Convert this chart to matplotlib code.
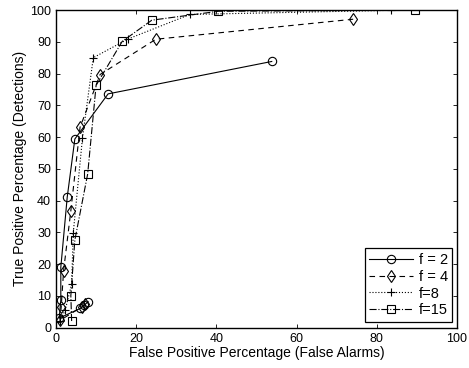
import matplotlib.pyplot as plt

plt.rcParams['font.family'] = ['Liberation Sans', 'DejaVu Sans']

# ROC points (false alarm %, detection %) for each window size f
fp_f2 = [8.0, 7.0, 6.1, 0.8, 1.2, 1.2, 2.8, 4.7, 13.0, 53.8]
tp_f2 = [8.2, 7.0, 6.1, 3.0, 8.6, 19.0, 41.1, 59.4, 73.6, 83.8]

fp_f4 = [7.3, 6.5, 1.0, 1.3, 1.9, 3.7, 6.0, 11.0, 24.9, 74.1]
tp_f4 = [7.6, 6.6, 2.3, 6.6, 18.0, 36.8, 63.1, 79.7, 90.8, 97.1]

fp_f8 = [1.0, 2.3, 3.9, 4.3, 6.6, 9.3, 18.0, 33.4, 83.5]
tp_f8 = [2.0, 5.6, 13.7, 29.8, 59.7, 85.0, 90.9, 98.6, 99.9]

fp_f15 = [3.9, 3.7, 4.7, 7.9, 10.0, 16.5, 23.9, 40.5, 89.5]
tp_f15 = [2.1, 10.1, 27.6, 48.4, 76.3, 90.1, 96.8, 99.6, 100.0]

fig = plt.figure(figsize=(4.69, 3.68), dpi=100)
ax = fig.add_axes([0.1194, 0.1095, 0.855, 0.8633])

kw = dict(color='k', lw=0.8, markersize=6, markerfacecolor='none',
          markeredgecolor='k', markeredgewidth=0.8)
ax.plot(fp_f2, tp_f2, '-o', label='f = 2', **kw)
ax.plot(fp_f4, tp_f4, '--d', label='f = 4', dashes=(5, 4), **kw)
ax.plot(fp_f8, tp_f8, ':+', label='f=8', **kw)
ax.plot(fp_f15, tp_f15, '-.s', label='f=15', **kw)

ax.set_xlim(0, 100)
ax.set_ylim(0, 100)
ax.set_xticks(range(0, 101, 20))
ax.set_yticks(range(0, 101, 10))
ax.tick_params(direction='in', top=True, right=True, length=3,
               labelsize=9, width=0.6)
for s in ax.spines.values():
    s.set_linewidth(1.0)

ax.set_xlabel('False Positive Percentage (False Alarms)', fontsize=10, labelpad=1)
ax.set_ylabel('True Positive Percentage (Detections)', fontsize=10, labelpad=2)

leg = ax.legend(loc='lower right', bbox_to_anchor=(1.003, 0.0), fontsize=10.5,
                fancybox=False, framealpha=1, edgecolor='k', borderaxespad=0.4,
                handlelength=3.0, handletextpad=0.4, labelspacing=0.2,
                borderpad=0.3)
leg.get_frame().set_linewidth(0.9)

fig.savefig('out.png', dpi=100)
